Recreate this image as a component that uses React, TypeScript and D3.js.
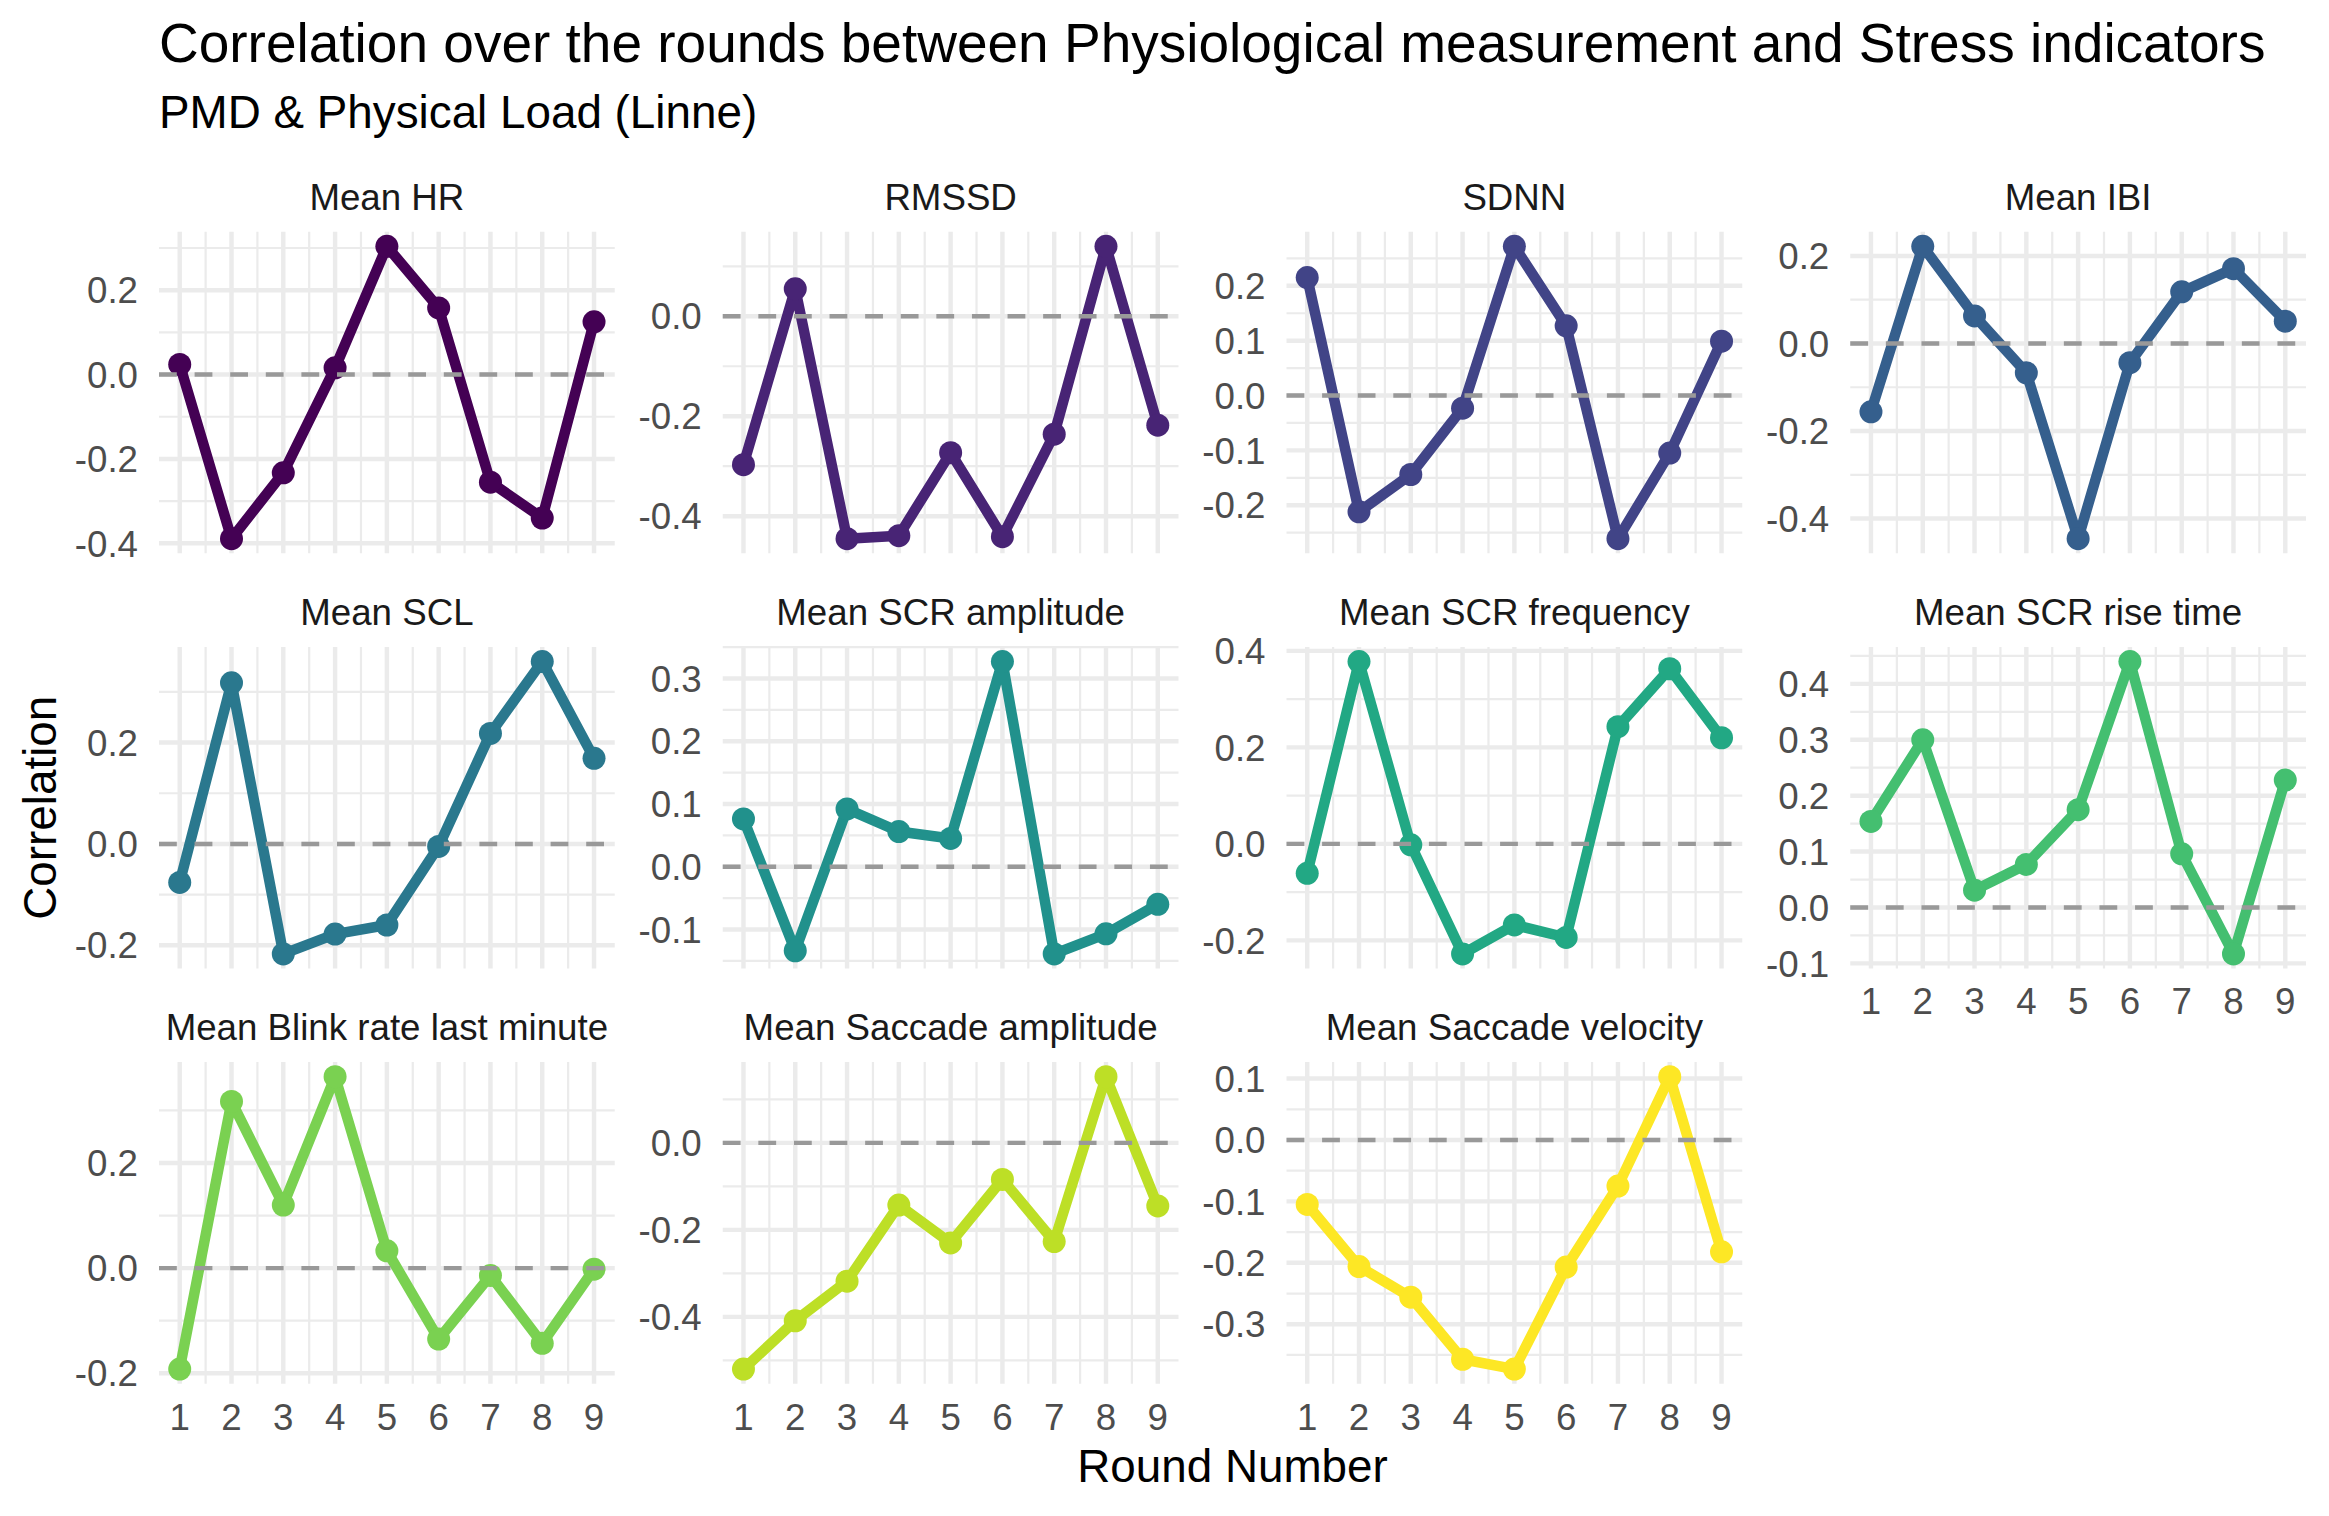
import { useEffect, useRef } from "react";
import * as d3 from "d3";

// Rondas (eje x compartido)
const rounds = [1, 2, 3, 4, 5, 6, 7, 8, 9];

// Nombres de los paneles, en el orden de facet_wrap
const measures = [
  "Mean HR",
  "RMSSD",
  "SDNN",
  "Mean IBI",
  "Mean SCL",
  "Mean SCR amplitude",
  "Mean SCR frequency",
  "Mean SCR rise time",
  "Mean Blink rate last minute",
  "Mean Saccade amplitude",
  "Mean Saccade velocity",
];

// Correlación por ronda, una serie por panel
const meanHR = [0.024, -0.389, -0.233, 0.016, 0.304, 0.158, -0.255, -0.34, 0.125];
const rmssd = [-0.297, 0.055, -0.445, -0.439, -0.273, -0.441, -0.236, 0.14, -0.218];
const sdnn = [0.215, -0.212, -0.144, -0.023, 0.272, 0.127, -0.261, -0.105, 0.099];
const meanIBI = [-0.156, 0.222, 0.063, -0.067, -0.446, -0.044, 0.118, 0.171, 0.051];
const meanSCL = [-0.076, 0.318, -0.217, -0.178, -0.16, -0.005, 0.218, 0.36, 0.169];
const scrAmplitude = [0.076, -0.134, 0.092, 0.056, 0.045, 0.327, -0.139, -0.107, -0.06];
const scrFrequency = [-0.061, 0.378, -0.002, -0.228, -0.168, -0.194, 0.243, 0.363, 0.22];
const scrRiseTime = [0.154, 0.3, 0.031, 0.077, 0.175, 0.44, 0.096, -0.083, 0.228];
const blinkRate = [-0.192, 0.317, 0.12, 0.364, 0.033, -0.135, -0.014, -0.143, -0.002];
const saccadeAmplitude = [-0.52, -0.409, -0.318, -0.143, -0.23, -0.084, -0.227, 0.152, -0.145];
const saccadeVelocity = [-0.105, -0.206, -0.256, -0.357, -0.373, -0.207, -0.075, 0.103, -0.182];

const seriesValues = [
  meanHR,
  rmssd,
  sdnn,
  meanIBI,
  meanSCL,
  scrAmplitude,
  scrFrequency,
  scrRiseTime,
  blinkRate,
  saccadeAmplitude,
  saccadeVelocity,
];

// Etiquetas del eje y de cada panel (escalas libres)
const yTickLabels = [
  ["-0.4", "-0.2", "0.0", "0.2"],
  ["-0.4", "-0.2", "0.0"],
  ["-0.2", "-0.1", "0.0", "0.1", "0.2"],
  ["-0.4", "-0.2", "0.0", "0.2"],
  ["-0.2", "0.0", "0.2"],
  ["-0.1", "0.0", "0.1", "0.2", "0.3"],
  ["-0.2", "0.0", "0.2", "0.4"],
  ["-0.1", "0.0", "0.1", "0.2", "0.3", "0.4"],
  ["-0.2", "0.0", "0.2"],
  ["-0.4", "-0.2", "0.0"],
  ["-0.3", "-0.2", "-0.1", "0.0", "0.1"],
];

const xTickLabels = ["1", "2", "3", "4", "5", "6", "7", "8", "9"];

const WIDTH = 2329;
const HEIGHT = 1516;

const App = () => {
  const svgRef = useRef<SVGSVGElement | null>(null);

  useEffect(() => {
    document.body.style.margin = "0";
    if (!svgRef.current) return;
    const svg = d3.select(svgRef.current);
    svg.selectAll("*").remove();

    const font = "'Liberation Sans', Arial, Helvetica, sans-serif";
    const nCols = 4;
    const left = 159;
    const top = 231.7;
    const panelW = 455.75;
    const panelH = 321.6;
    const gapX = 108;
    const stepY = 415.2;
    const nRows = Math.ceil(measures.length / nCols);

    const majorW = 4.44;
    const minorW = 2.22;
    const gridColor = "#EBEBEB";

    const color = (i) => d3.interpolateViridis(i / (measures.length - 1));

    // Escala x compartida con la expansión de 5% de ggplot
    const [xMin, xMax] = d3.extent(rounds) as [number, number];
    const xPad = (xMax - xMin) * 0.05;
    const x = d3.scaleLinear().domain([xMin - xPad, xMax + xPad]).range([0, panelW]);
    const xMinor = rounds.slice(1).map((r, k) => (r + rounds[k]) / 2);

    svg.append("rect").attr("width", WIDTH).attr("height", HEIGHT).attr("fill", "#fff");

    measures.forEach((name, i) => {
      const col = i % nCols;
      const row = Math.floor(i / nCols);
      const values = seriesValues[i];
      const data = rounds.map((r, k) => ({ round: r, value: values[k] }));

      const g = svg
        .append("g")
        .attr("transform", `translate(${left + col * (panelW + gapX)},${top + row * stepY})`);

      const [yMinV, yMaxV] = d3.extent(values) as [number, number];
      const yPad = (yMaxV - yMinV) * 0.05;
      const y = d3
        .scaleLinear()
        .domain([yMinV - yPad, yMaxV + yPad])
        .range([panelH, 0]);
      const [d0, d1] = y.domain();

      const majors = yTickLabels[i].map(Number);
      const step = majors[1] - majors[0];
      const ext = [majors[0] - step, ...majors, majors[majors.length - 1] + step];
      const yMinor = ext
        .slice(1)
        .map((b, k) => (b + ext[k]) / 2)
        .filter((v) => v >= d0 && v <= d1);

      // Rejilla menor
      g.selectAll(".ymin")
        .data(yMinor)
        .enter()
        .append("line")
        .attr("x1", 0)
        .attr("x2", panelW)
        .attr("y1", (d) => y(d))
        .attr("y2", (d) => y(d))
        .attr("stroke", gridColor)
        .attr("stroke-width", minorW);

      g.selectAll(".xmin")
        .data(xMinor)
        .enter()
        .append("line")
        .attr("x1", (d) => x(d))
        .attr("x2", (d) => x(d))
        .attr("y1", 0)
        .attr("y2", panelH)
        .attr("stroke", gridColor)
        .attr("stroke-width", minorW);

      // Rejilla mayor
      g.selectAll(".ymaj")
        .data(majors)
        .enter()
        .append("line")
        .attr("x1", 0)
        .attr("x2", panelW)
        .attr("y1", (d) => y(d))
        .attr("y2", (d) => y(d))
        .attr("stroke", gridColor)
        .attr("stroke-width", majorW);

      g.selectAll(".xmaj")
        .data(rounds)
        .enter()
        .append("line")
        .attr("x1", (d) => x(d))
        .attr("x2", (d) => x(d))
        .attr("y1", 0)
        .attr("y2", panelH)
        .attr("stroke", gridColor)
        .attr("stroke-width", majorW);

      // Línea y puntos
      const line = d3
        .line<{ round: number; value: number }>()
        .x((d) => x(d.round))
        .y((d) => y(d.value));

      g.append("path")
        .datum(data)
        .attr("d", line)
        .attr("fill", "none")
        .attr("stroke", color(i))
        .attr("stroke-width", 10.5)
        .attr("stroke-linejoin", "round");

      g.selectAll(".pt")
        .data(data)
        .enter()
        .append("circle")
        .attr("cx", (d) => x(d.round))
        .attr("cy", (d) => y(d.value))
        .attr("r", 11.5)
        .attr("fill", color(i));

      // Referencia en 0
      g.append("line")
        .attr("x1", 0)
        .attr("x2", panelW)
        .attr("y1", y(0))
        .attr("y2", y(0))
        .attr("stroke", "#999999")
        .attr("stroke-width", 4.44)
        .attr("stroke-dasharray", "17.8,17.8");

      // Etiquetas eje y
      g.selectAll(".ylab")
        .data(yTickLabels[i])
        .enter()
        .append("text")
        .attr("x", -21)
        .attr("y", (d) => y(+d))
        .attr("dy", "0.36em")
        .attr("text-anchor", "end")
        .style("font-family", font)
        .style("font-size", "36.7px")
        .style("fill", "#4D4D4D")
        .text((d) => d);

      // Etiquetas eje x solo en el último panel de cada columna
      if (row === nRows - 1 || i + nCols >= measures.length) {
        g.selectAll(".xlab")
          .data(xTickLabels)
          .enter()
          .append("text")
          .attr("x", (d) => x(+d))
          .attr("y", panelH + 46)
          .attr("text-anchor", "middle")
          .style("font-family", font)
          .style("font-size", "36.7px")
          .style("fill", "#4D4D4D")
          .text((d) => d);
      }

      // Título del panel
      g.append("text")
        .attr("x", panelW / 2)
        .attr("y", -21.7)
        .attr("text-anchor", "middle")
        .style("font-family", font)
        .style("font-size", "36.7px")
        .style("fill", "#1A1A1A")
        .text(name);
    });

    // Títulos
    svg
      .append("text")
      .attr("x", left)
      .attr("y", 62)
      .style("font-family", font)
      .style("font-size", "55px")
      .style("fill", "#000")
      .text("Correlation over the rounds between Physiological measurement and Stress indicators");

    svg
      .append("text")
      .attr("x", left)
      .attr("y", 128)
      .style("font-family", font)
      .style("font-size", "45.8px")
      .style("fill", "#000")
      .text("PMD & Physical Load (Linne)");

    const totalW = nCols * panelW + (nCols - 1) * gapX;
    const totalH = (nRows - 1) * stepY + panelH;

    svg
      .append("text")
      .attr("x", left + totalW / 2)
      .attr("y", 1482)
      .attr("text-anchor", "middle")
      .style("font-family", font)
      .style("font-size", "45.8px")
      .style("fill", "#000")
      .text("Round Number");

    svg
      .append("text")
      .attr("transform", `translate(56,${top + totalH / 2}) rotate(-90)`)
      .attr("text-anchor", "middle")
      .style("font-family", font)
      .style("font-size", "45.8px")
      .style("fill", "#000")
      .text("Correlation");
  }, []);

  return (
    <svg
      ref={svgRef}
      width={WIDTH}
      height={HEIGHT}
      viewBox={`0 0 ${WIDTH} ${HEIGHT}`}
      style={{ display: "block" }}
    />
  );
};

export default App;
